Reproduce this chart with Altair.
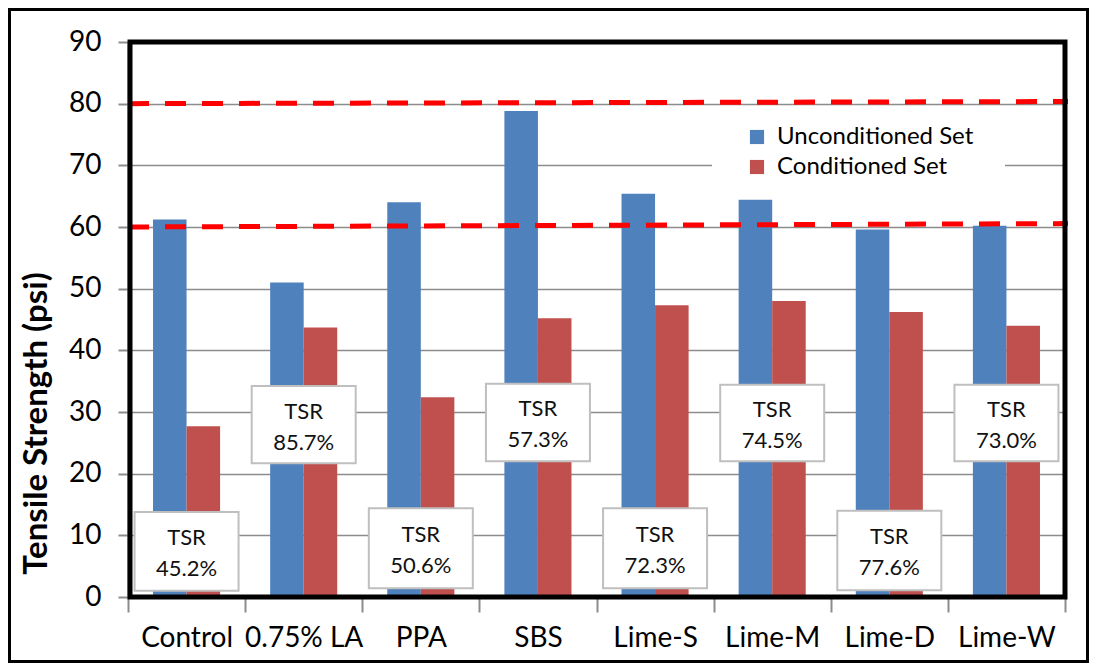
import altair as alt
import pandas as pd

categories = ["Control", "0.75% LA", "PPA", "SBS", "Lime-S", "Lime-M", "Lime-D", "Lime-W"]
unconditioned = [61.2, 51.0, 64.0, 78.8, 65.4, 64.4, 59.6, 60.2]
conditioned = [27.7, 43.7, 32.4, 45.2, 47.3, 48.0, 46.2, 44.0]
tsr_labels = ["45.2%", "85.7%", "50.6%", "57.3%", "72.3%", "74.5%", "77.6%", "73.0%"]
box_bottom = [1.0, 21.7, 1.4, 22.0, 1.4, 22.0, 1.1, 22.0]
box_top = [13.8, 34.2, 14.4, 34.6, 14.4, 34.4, 14.0, 34.4]
threshold_start = [60, 80]
threshold_end = [60.55, 80.35]
series = ["Unconditioned Set", "Conditioned Set"]
colors = ["#4F81BD", "#C0504D"]

W, H = 937, 555
FONT = "Lato"
YTITLE = "Tensile Strength (psi)"

rows = []
for c, u, k in zip(categories, unconditioned, conditioned):
    rows.append({"category": c, "series": series[0], "value": u})
    rows.append({"category": c, "series": series[1], "value": k})
bars_df = pd.DataFrame(rows)

box_df = pd.DataFrame({
    "category": categories,
    "bottom": box_bottom,
    "top": box_top,
    "mid": [(a + b) / 2 for a, b in zip(box_bottom, box_top)],
    "label": ["TSR\n" + t for t in tsr_labels],
})

thr_df = pd.DataFrame({"start": threshold_start, "end": threshold_end})

xscale = alt.Scale(domain=categories, paddingInner=0, paddingOuter=0)

bars = alt.Chart(bars_df).mark_bar().encode(
    x=alt.X("category:N", scale=xscale, sort=categories, title=None,
            axis=alt.Axis(labelAngle=0, labelFontSize=28, labelColor="#000000",
                          labelPadding=12, tickSize=15, tickColor="#8c8c8c",
                          tickWidth=2, tickBand="extent", domain=False, grid=False)),
    xOffset=alt.XOffset("series:N", sort=series,
                        scale=alt.Scale(paddingInner=0, paddingOuter=0.746)),
    y=alt.Y("value:Q", scale=alt.Scale(domain=[0, 90], nice=False), title=YTITLE,
            axis=alt.Axis(values=list(range(0, 91, 10)), title=YTITLE,
                          labelFontSize=28, labelColor="#000000", labelPadding=17,
                          tickSize=10, tickColor="#8c8c8c", tickWidth=2,
                          domainColor="#8c8c8c", domainWidth=2,
                          gridColor="#8c8c8c", gridWidth=1.5,
                          titleFontSize=33, titleFontWeight="bold", titleColor="#000000",
                          titleX=-75, titleY=381)),
    color=alt.Color("series:N", sort=series,
                    scale=alt.Scale(domain=series, range=colors),
                    legend=alt.Legend(title=None, orient="none", legendX=617, legendY=83,
                                      symbolType="square", symbolSize=200,
                                      symbolStrokeWidth=0, labelFontSize=24,
                                      labelColor="#000000", labelOffset=8,
                                      rowPadding=6, labelLimit=400)),
)

legend_bg = alt.Chart(pd.DataFrame({"a": [0]})).mark_rect(fill="white").encode(
    x=alt.value(584), x2=alt.value(877), y=alt.value(110), y2=alt.value(140)
)

thresholds = alt.Chart(thr_df).mark_rule(
    color="#FF0000", strokeWidth=5, strokeDash=[21, 16]
).encode(
    x=alt.value(0), x2=alt.value(W + 3),
    y=alt.Y("start:Q", title=YTITLE), y2="end:Q",
)

boxes = alt.Chart(box_df).mark_bar(
    width=104, fill="white", stroke="#bfbfbf", strokeWidth=2
).encode(
    x=alt.X("category:N", sort=categories, title=None),
    y=alt.Y("bottom:Q", title=YTITLE), y2="top:Q",
)

texts = alt.Chart(box_df).mark_text(
    fontSize=22, lineBreak="\n", lineHeight=31, color="#111111",
    baseline="middle", align="center", dy=-13
).encode(
    x=alt.X("category:N", sort=categories, title=None),
    y=alt.Y("mid:Q", title=YTITLE),
    text="label:N",
)

plot_frame = alt.Chart(pd.DataFrame({"a": [0]})).mark_rect(
    fill=None, stroke="#000000", strokeWidth=5
).encode(
    x=alt.value(2), x2=alt.value(W), y=alt.value(0), y2=alt.value(H)
)

frame = alt.Chart(pd.DataFrame({"a": [0]})).mark_rect(
    fill=None, stroke="#000000", strokeWidth=3
).encode(
    x=alt.value(-118.5), x2=alt.value(959.5), y=alt.value(-32.5), y2=alt.value(619.5)
)

chart = alt.layer(bars, legend_bg, thresholds, boxes, texts, plot_frame, frame).properties(
    width=W, height=H, autosize="none",
    padding={"left": 120, "top": 34, "right": 24, "bottom": 66},
).configure(
    font=FONT,
).configure_view(
    stroke=None
)

chart.save("out.html", embed_options={"renderer": "svg", "actions": False})
